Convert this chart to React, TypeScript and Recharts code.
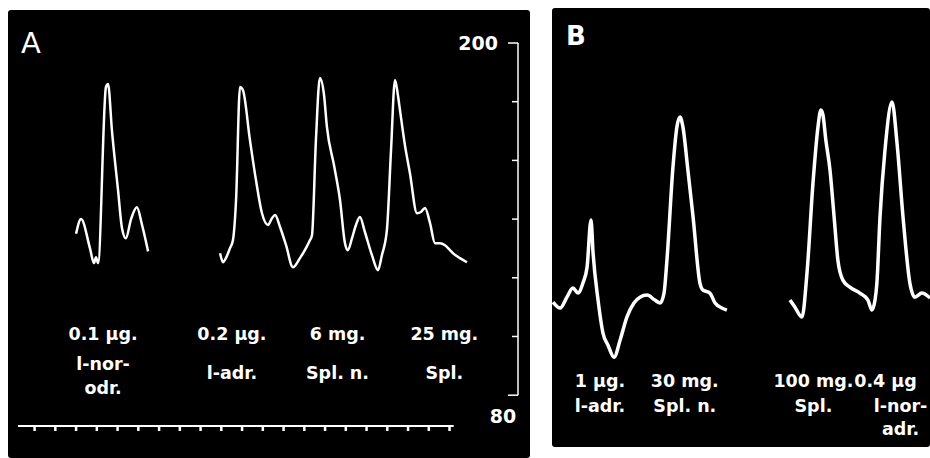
import React from 'react';
import { LineChart, Line, XAxis, YAxis, ReferenceLine, ReferenceDot } from 'recharts';

const FONT = '"DejaVu Sans", "Open Sans", sans-serif';

// blood pressure (mm Hg) against time, in time-marker intervals
const traceA1: [number, number][] = [
  [2.0, 135], [2.24, 140], [2.67, 130], [2.86, 125], [2.96, 127], [3.06, 125], [3.44, 185], [3.54, 186],
  [3.73, 170], [4.02, 150], [4.21, 137], [4.4, 133.5], [4.65, 140], [4.93, 144], [5.18, 138], [5.47, 129],
];
const traceA2: [number, number][] = [
  [8.94, 128.4], [9.08, 125.3], [9.22, 126.7], [9.42, 130.1], [9.56, 132.8], [9.71, 146.5], [9.9, 185],
  [10.04, 184], [10.38, 166.9], [10.67, 153.3], [10.96, 142], [11.25, 138], [11.44, 140.3], [11.59, 141.4],
  [11.83, 137.3], [12.12, 131.1], [12.45, 123.6], [12.79, 126.7], [13.08, 130.1], [13.27, 132.8],
  [13.37, 134.5], [13.56, 166.9], [13.75, 188.1], [13.95, 182.3], [14.09, 171.4], [14.43, 158.4],
  [14.72, 146.5], [14.96, 131.8], [15.1, 129.4], [15.3, 133.5], [15.49, 138], [15.68, 140.7], [15.92, 135.6],
  [16.26, 127.7], [16.55, 122.6], [16.74, 127.7], [16.98, 136.2], [17.18, 163.5], [17.37, 187.4],
  [17.51, 182.3], [17.61, 177.2], [17.85, 165.2], [18.09, 155.7], [18.43, 142], [18.62, 142.4],
  [18.82, 143.8], [19.06, 138.6], [19.3, 131.8], [19.54, 131.8], [19.78, 131.1], [20.02, 129.4],
  [20.16, 128.4], [20.5, 126.7], [20.84, 125.3],
];
const traceB1: [number, number][] = [
  [0.05, 111.7], [0.39, 109.7], [0.72, 113.4], [1.01, 116.5], [1.25, 114.8], [1.49, 118.2], [1.69, 123.6],
  [1.88, 139.7], [1.98, 128.4], [2.22, 112.4], [2.46, 101.1], [2.7, 97], [2.99, 92.9], [3.28, 98.7],
  [3.61, 106.6], [3.95, 111.4], [4.24, 113.4], [4.58, 114.1], [4.96, 112.4], [5.21, 111.4], [5.4, 114.8],
  [5.54, 126], [5.83, 157.7], [6.02, 171.4], [6.17, 174.8], [6.31, 171.4], [6.55, 156.7], [6.8, 140.7],
  [7.13, 118.2], [7.28, 115.8], [7.61, 114.8], [7.86, 111.4], [8.19, 109.7], [8.43, 109],
];
const traceB2: [number, number][] = [
  [11.47, 112.4], [11.71, 110], [12.05, 106.6], [12.29, 121.6], [12.58, 152.3], [12.82, 171.4],
  [12.96, 177.2], [13.06, 175.5], [13.2, 166.9], [13.4, 156.7], [13.59, 141.4], [13.78, 126],
  [14.02, 119.2], [14.36, 116.8], [14.84, 114.8], [15.23, 112.4], [15.42, 109], [15.57, 112.4],
  [15.66, 118.2], [15.81, 140.7], [16.05, 163.5], [16.39, 179.9], [16.63, 165.9], [16.92, 140.7],
  [17.25, 118.2], [17.49, 113.4], [17.83, 114.8], [18.22, 113.1],
];

const markerTimes = [0, 1, 2, 3, 4, 5, 6, 7, 8, 9, 10, 11, 12, 13, 14, 15, 16, 17, 18, 19, 20];
const pressureTicks = [80, 100, 120, 140, 160, 180, 200];

const labelsA = [
  { t: 3.3, lines: ['0.1 µg.', 'l-nor-', 'odr.'] },
  { t: 9.51, lines: ['0.2 µg.', 'l-adr.'] },
  { t: 14.6, lines: ['6 mg.', 'Spl. n.'] },
  { t: 19.75, lines: ['25 mg.', 'Spl.'] },
];
const labelsB = [
  { t: 2.31, lines: ['1 µg.', 'l-adr.'] },
  { t: 6.4, lines: ['30 mg.', 'Spl. n.'] },
  { t: 12.6, lines: ['100 mg.', 'Spl.'] },
  { t: 16.8, lines: ['0.4 µg', 'l-nor-', 'adr.'] },
];

const toPoints = (arr: [number, number][]) => arr.map(([t, p]) => ({ t, p }));

function PressureTick(props: any) {
  const { x, y, payload } = props;
  const v = payload.value;
  const len = v === 200 || v === 80 ? 10 : 6;
  const txt = { fill: '#fff', fontFamily: FONT, fontWeight: 700, fontSize: 19 };
  return (
    <g>
      <line x1={x - len} x2={x} y1={y} y2={y} stroke="#fff" strokeWidth={1.5} />
      {v === 200 && <text x={x - 20} y={y + 7} textAnchor="end" {...txt}>200</text>}
      {v === 80 && <text x={x - 15} y={y + 28} textAnchor="middle" {...txt}>80</text>}
    </g>
  );
}

function DoseText(props: any) {
  const { viewBox, lines, offsets, shifts } = props;
  const cx = viewBox.x + viewBox.width / 2;
  const cy = viewBox.y + viewBox.height / 2;
  return (
    <text fill="#fff" fontFamily={FONT} fontWeight={700} fontSize={17.5} textAnchor="middle">
      {lines.map((s: string, i: number) => (
        <tspan key={i} x={cx + (shifts ? shifts[i] : 0)} y={cy + 6 + offsets[i]}>{s}</tspan>
      ))}
    </text>
  );
}

export default function App() {
  return (
    <div style={{ position: 'absolute', left: 0, top: 0, width: 930, height: 458, background: '#fff', overflow: 'hidden', fontFamily: FONT }}>
      <div style={{ position: 'absolute', left: 8, top: 10, width: 522, height: 448, background: '#000', borderRadius: 3 }} />
      <div style={{ position: 'absolute', left: 552, top: 8, width: 378, height: 439, background: '#000', borderRadius: 3 }} />
      <div style={{ position: 'absolute', left: 21, top: 26, color: '#fff', fontSize: 29 }}>A</div>
      <div style={{ position: 'absolute', left: 566, top: 21, color: '#fff', fontSize: 26, fontWeight: 700 }}>B</div>

      <div style={{ position: 'absolute', left: 0, top: 0 }}>
        <LineChart width={531} height={458} margin={{ top: 43, right: 0, bottom: 24, left: 18 }}>
          <XAxis type="number" dataKey="t" domain={[-0.8, 23.3]} ticks={markerTimes} interval={0}
            height={8} axisLine={false} tickSize={5} tickLine={{ stroke: '#fff', strokeWidth: 2.5 }}
            tickFormatter={() => ''} />
          <YAxis type="number" orientation="right" domain={[69.5, 200]} ticks={pressureTicks} interval={0}
            width={13} axisLine={false} tickLine={false} tickSize={0} tickMargin={0} tick={<PressureTick />} />
          <ReferenceLine segment={[{ x: 23.3, y: 80 }, { x: 23.3, y: 200 }]} stroke="#fff" strokeWidth={1.5} ifOverflow="visible" />
          <ReferenceLine segment={[{ x: -0.8, y: 69.5 }, { x: 20.2, y: 69.5 }]} stroke="#fff" strokeWidth={2} ifOverflow="visible" />
          <Line data={toPoints(traceA1)} dataKey="p" type="monotone" stroke="#fff" strokeWidth={2.5} dot={false} isAnimationActive={false} />
          <Line data={toPoints(traceA2)} dataKey="p" type="monotone" stroke="#fff" strokeWidth={2.5} dot={false} isAnimationActive={false} />
          {labelsA.map((l) => (
            <ReferenceDot key={l.t} x={l.t} y={101} r={0} fill="none" stroke="none" ifOverflow="visible"
              label={<DoseText lines={l.lines} offsets={l.lines.length === 3 ? [0, 30, 54] : [0, 39]} />} />
          ))}
        </LineChart>
      </div>

      <div style={{ position: 'absolute', left: 552, top: 0 }}>
        <LineChart width={378} height={458} margin={{ top: 43, right: 0, bottom: 32, left: 0 }}>
          <XAxis type="number" dataKey="t" domain={[0, 18.2]} hide />
          <YAxis type="number" domain={[69.5, 200]} hide />
          <Line data={toPoints(traceB1)} dataKey="p" type="monotone" stroke="#fff" strokeWidth={3.5} dot={false} isAnimationActive={false} />
          <Line data={toPoints(traceB2)} dataKey="p" type="monotone" stroke="#fff" strokeWidth={3.5} dot={false} isAnimationActive={false} />
          {labelsB.map((l) => (
            <ReferenceDot key={l.t} x={l.t} y={85} r={0} fill="none" stroke="none" ifOverflow="visible"
              label={<DoseText lines={l.lines} offsets={l.lines.length === 3 ? [0, 25, 48] : [0, 25]}
                shifts={l.lines.length === 3 ? [-15, 0, 0] : [0, 0]} />} />
          ))}
        </LineChart>
      </div>
    </div>
  );
}
